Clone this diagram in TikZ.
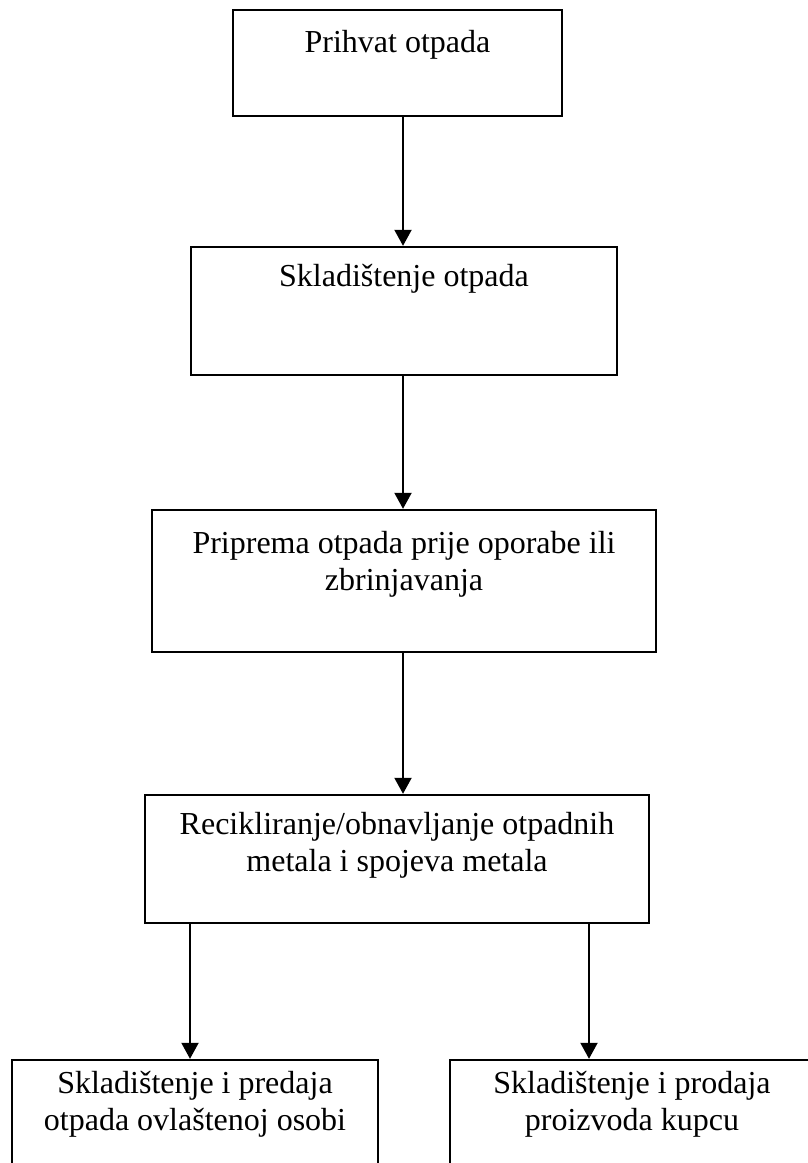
\documentclass[tikz,border=0pt]{standalone}
\usepackage{fontspec}
\setmainfont{Liberation Serif}
\usetikzlibrary{arrows.meta}
\begin{document}
\begin{tikzpicture}[x=1pt,y=-1pt,
  stagebox/.style={draw,line width=2.4pt,inner sep=0pt},
  stagetext/.style={anchor=north,inner sep=0pt,align=center,
    font=\fontsize{32}{37}\selectfont},
  flow/.style={line width=2pt,-{Triangle[length=16pt,width=17pt]}}]
\useasboundingbox (0,0) rectangle (808,1163);
\clip (0,0) rectangle (808,1163);

% process stages (the last two run past the page edge)
\node[stagebox,minimum width=329pt,minimum height=106pt] (b1) at (397.5,63) {};
\node[stagebox,minimum width=426pt,minimum height=128pt] (b2) at (404,311) {};
\node[stagebox,minimum width=504pt,minimum height=142pt] (b3) at (404,581) {};
\node[stagebox,minimum width=504pt,minimum height=128pt] (b4) at (397,859) {};
\node[stagebox,minimum width=366pt,minimum height=130pt] (b5) at (195,1125) {};
\node[stagebox,minimum width=364pt,minimum height=130pt] (b6) at (632,1125) {};

% stage labels
\node[stagetext] (t1) at (b1.north) [yshift=-21pt] {Prihvat otpada};
\node[stagetext] (t2) at (b2.north) [yshift=-18pt] {Skladištenje otpada};
\node[stagetext] (t3) at (b3.north) [yshift=-22pt] {Priprema otpada prije oporabe ili\\zbrinjavanja};
\node[stagetext] (t4) at (b4.north) [yshift=-18pt] {Recikliranje/obnavljanje otpadnih\\metala i spojeva metala};
\node[stagetext] (t5) at (b5.north) [yshift=-12pt] {Skladištenje i predaja\\otpada ovlaštenoj osobi};
\node[stagetext] (t6) at (b6.north) [yshift=-12pt] {Skladištenje i prodaja\\proizvoda kupcu};

% connectors
\coordinate (mx) at (403,0);
\coordinate (lx) at (190,0);
\coordinate (rx) at (589,0);
\draw[flow] (mx |- b1.south) -- (mx |- b2.north);
\draw[flow] (mx |- b2.south) -- (mx |- b3.north);
\draw[flow] (mx |- b3.south) -- (mx |- b4.north);
\draw[flow] (lx |- b4.south) -- (lx |- b5.north);
\draw[flow] (rx |- b4.south) -- (rx |- b6.north);
\end{tikzpicture}
\end{document}
